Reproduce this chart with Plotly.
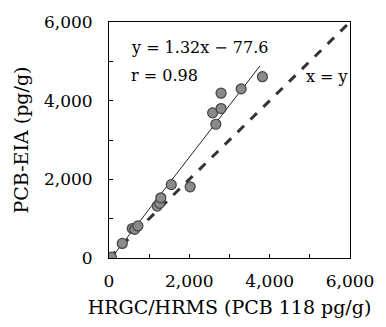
import plotly.graph_objects as go

# Data
hrgc = [60, 330, 580, 640, 720, 1200, 1260, 1290, 1550, 2020, 2660, 2580, 2790, 2790, 3290, 3820]
eia = [20, 370, 750, 730, 815, 1320, 1390, 1530, 1865, 1810, 3400, 3690, 3800, 4190, 4300, 4610]
slope = 1.32
intercept = -77.6
fit_x = [60, 3760]
identity = [0, 6000]
tick_vals = [0, 1000, 2000, 3000, 4000, 5000, 6000]
tick_text = ["0", "", "2,000", "", "4,000", "", "6,000"]

FONT = "DejaVu Serif"

fig = go.Figure()
fig.add_trace(go.Scatter(x=identity, y=identity, mode="lines",
                         line=dict(color="#333333", width=3, dash="dash"), hoverinfo="skip"))
fig.add_trace(go.Scatter(x=fit_x, y=[slope * v + intercept for v in fit_x], mode="lines",
                         line=dict(color="#222222", width=1), hoverinfo="skip"))
fig.add_trace(go.Scatter(x=hrgc, y=eia, mode="markers",
                         marker=dict(size=10, color="#8a8a8a", line=dict(color="#444444", width=1.2))))

fig.add_annotation(x=0.085, y=0.89, xref="paper", yref="paper", xanchor="left", yanchor="middle",
                   text="y = 1.32x \u2212 77.6", showarrow=False, font=dict(family=FONT, size=16, color="black"))
fig.add_annotation(x=0.085, y=0.775, xref="paper", yref="paper", xanchor="left", yanchor="middle",
                   text="r = 0.98", showarrow=False, font=dict(family=FONT, size=16, color="black"))
fig.add_annotation(x=1.0, y=0.77, xref="paper", yref="paper", xanchor="right", yanchor="middle",
                   text="x = y", showarrow=False, font=dict(family=FONT, size=16, color="black"))

axis_common = dict(range=[0, 6000], tickvals=tick_vals, ticktext=tick_text, ticks="inside", ticklen=4,
                   tickcolor="black", showline=True, linecolor="black", linewidth=1, mirror=True,
                   showgrid=False, zeroline=False, tickfont=dict(family=FONT, size=17, color="black"))

fig.update_layout(
    width=386, height=327, margin=dict(l=109, r=25, t=21, b=67),
    paper_bgcolor="white", plot_bgcolor="white", showlegend=False,
    xaxis=dict(title=dict(text="HRGC/HRMS (PCB 118 pg/g)", font=dict(family=FONT, size=19, color="black"), standoff=10),
               ticklabelstandoff=8, **axis_common),
    yaxis=dict(title=dict(text="PCB-EIA (pg/g)", font=dict(family=FONT, size=19, color="black"), standoff=10),
               ticklabelstandoff=12, **axis_common),
)
fig.write_html("out.html")
